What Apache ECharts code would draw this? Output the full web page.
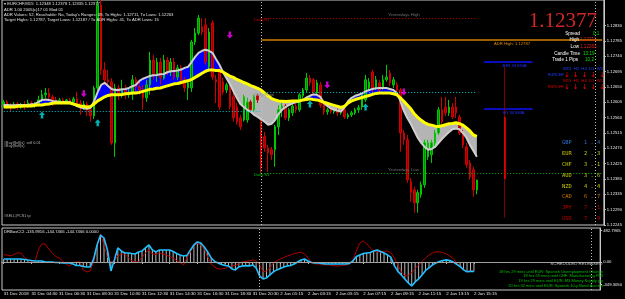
<!DOCTYPE html>
<html>
<head>
<meta charset="utf-8">
<style>
html,body{margin:0;padding:0;background:#000;}
#chart{width:625px;height:299px;}
</style>
<script src="https://cdn.jsdelivr.net/npm/echarts@6/dist/echarts.min.js"></script>
</head>
<body>
<div id="chart"></div>
<script>
// EURCHF M15, 31 Dec 2018 02:30 -> 2 Jan 2019 15:15
var timeTicks = ['31 Dec 2018','31 Dec 04:30','31 Dec 06:30','31 Dec 08:30','31 Dec 10:30','31 Dec 12:30',
    '31 Dec 14:30','31 Dec 16:30','31 Dec 18:30','31 Dec 20:30','2 Jan 01:15','2 Jan 03:15','2 Jan 05:15',
    '2 Jan 07:15','2 Jan 09:15','2 Jan 11:15','2 Jan 13:15','2 Jan 15:15'];

// open, close, low, high
var candles = [
[1.12600,1.12606,1.12589,1.12612],[1.12606,1.12597,1.12586,1.12612],[1.12597,1.12594,1.12577,1.12603],
[1.12594,1.12600,1.12589,1.12606],[1.12600,1.12591,1.12583,1.12606],[1.12591,1.12597,1.12586,1.12603],
[1.12597,1.12594,1.12583,1.12609],[1.12594,1.12603,1.12589,1.12612],[1.12603,1.12597,1.12591,1.12609],
[1.12597,1.12600,1.12589,1.12606],[1.12600,1.12612,1.12594,1.12624],[1.12612,1.12627,1.12606,1.12641],
[1.12627,1.12632,1.12618,1.12647],[1.12632,1.12621,1.12612,1.12647],[1.12621,1.12612,1.12594,1.12627],
[1.12612,1.12609,1.12600,1.12621],[1.12609,1.12612,1.12600,1.12618],[1.12612,1.12609,1.12603,1.12618],
[1.12609,1.12612,1.12603,1.12615],[1.12612,1.12606,1.12600,1.12618],[1.12606,1.12615,1.12600,1.12621],
[1.12615,1.12603,1.12591,1.12635],[1.12603,1.12594,1.12568,1.12612],[1.12594,1.12600,1.12583,1.12609],
[1.12600,1.12583,1.12565,1.12606],[1.12583,1.12565,1.12548,1.12591],[1.12565,1.12647,1.12556,1.12653],
[1.12647,1.12890,1.12641,1.12905],[1.12890,1.12700,1.12685,1.12905],[1.12700,1.12671,1.12656,1.12723],
[1.12671,1.12665,1.12656,1.12700],[1.12665,1.12486,1.12480,1.12676],[1.12486,1.12647,1.12445,1.12659],
[1.12647,1.12627,1.12612,1.12656],[1.12627,1.12641,1.12618,1.12671],[1.12641,1.12627,1.12615,1.12656],
[1.12627,1.12635,1.12618,1.12647],[1.12635,1.12671,1.12612,1.12685],[1.12671,1.12650,1.12635,1.12679],
[1.12650,1.12641,1.12627,1.12665],[1.12641,1.12618,1.12583,1.12656],[1.12618,1.12656,1.12606,1.12671],
[1.12656,1.12729,1.12627,1.12753],[1.12729,1.12685,1.12671,1.12744],[1.12685,1.12723,1.12665,1.12735],
[1.12723,1.12676,1.12656,1.12735],[1.12676,1.12729,1.12671,1.12744],[1.12729,1.12694,1.12685,1.12738],
[1.12694,1.12723,1.12682,1.12735],[1.12723,1.12679,1.12671,1.12735],[1.12679,1.12706,1.12671,1.12715],
[1.12706,1.12671,1.12656,1.12715],[1.12671,1.12647,1.12635,1.12679],[1.12647,1.12662,1.12612,1.12671],
[1.12647,1.12782,1.12635,1.12788],[1.12782,1.12808,1.12773,1.12823],[1.12808,1.12852,1.12802,1.12861],
[1.12826,1.12811,1.12802,1.12852],[1.12832,1.12723,1.12715,1.12852],[1.12709,1.12811,1.12694,1.12823],
[1.12838,1.12679,1.12671,1.12846],[1.12671,1.12665,1.12603,1.12685],[1.12694,1.12591,1.12583,1.12706],
[1.12665,1.12635,1.12627,1.12676],[1.12641,1.12656,1.12632,1.12662],[1.12647,1.12591,1.12583,1.12656],
[1.12621,1.12559,1.12548,1.12635],[1.12591,1.12548,1.12539,1.12603],[1.12559,1.12533,1.12524,1.12568],
[1.12553,1.12621,1.12548,1.12627],[1.12553,1.12606,1.12545,1.12618],[1.12606,1.12583,1.12577,1.12612],
[1.12583,1.12621,1.12577,1.12627],[1.12624,1.12612,1.12603,1.12630],[1.12548,1.12416,1.12398,1.12559],
[1.12504,1.12471,1.12460,1.12518],[1.12471,1.12457,1.12401,1.12480],[1.12466,1.12451,1.12436,1.12474],
[1.12466,1.12533,1.12416,1.12539],[1.12533,1.12583,1.12509,1.12597],[1.12583,1.12594,1.12562,1.12603],
[1.12594,1.12559,1.12553,1.12600],[1.12559,1.12583,1.12550,1.12589],[1.12574,1.12594,1.12565,1.12600],
[1.12594,1.12583,1.12574,1.12600],[1.12583,1.12627,1.12577,1.12632],[1.12624,1.12641,1.12618,1.12647],
[1.12641,1.12676,1.12635,1.12691],[1.12676,1.12662,1.12653,1.12685],[1.12671,1.12635,1.12624,1.12676],
[1.12632,1.12662,1.12627,1.12671],[1.12656,1.12597,1.12589,1.12665],[1.12603,1.12577,1.12568,1.12612],
[1.12577,1.12583,1.12568,1.12589],[1.12583,1.12577,1.12571,1.12589],[1.12577,1.12580,1.12571,1.12586],
[1.12580,1.12574,1.12565,1.12586],[1.12574,1.12577,1.12568,1.12583],[1.12583,1.12562,1.12556,1.12589],
[1.12562,1.12568,1.12556,1.12574],[1.12568,1.12574,1.12562,1.12580],[1.12574,1.12583,1.12568,1.12589],
[1.12583,1.12589,1.12574,1.12597],[1.12591,1.12627,1.12583,1.12632],[1.12612,1.12671,1.12606,1.12685],
[1.12647,1.12665,1.12641,1.12676],[1.12694,1.12647,1.12635,1.12700],[1.12650,1.12671,1.12641,1.12682],
[1.12662,1.12641,1.12632,1.12671],[1.12647,1.12671,1.12641,1.12685],[1.12671,1.12679,1.12665,1.12715],
[1.12691,1.12662,1.12653,1.12700],[1.12656,1.12671,1.12647,1.12679],[1.12656,1.12641,1.12635,1.12665],
[1.12641,1.12515,1.12460,1.12647],[1.12515,1.12495,1.12480,1.12524],[1.12495,1.12378,1.12369,1.12509],
[1.12372,1.12340,1.12313,1.12383],[1.12348,1.12310,1.12281,1.12357],[1.12310,1.12340,1.12281,1.12348],
[1.12334,1.12363,1.12325,1.12372],[1.12363,1.12486,1.12354,1.12495],[1.12445,1.12486,1.12436,1.12495],
[1.12451,1.12486,1.12427,1.12495],[1.12486,1.12515,1.12477,1.12524],[1.12515,1.12583,1.12509,1.12591],
[1.12583,1.12548,1.12539,1.12621],[1.12591,1.12574,1.12565,1.12621],[1.12574,1.12591,1.12565,1.12612],
[1.12591,1.12562,1.12556,1.12603],[1.12591,1.12574,1.12559,1.12621],[1.12562,1.12515,1.12509,1.12568],
[1.12515,1.12480,1.12471,1.12524],[1.12474,1.12422,1.12413,1.12486],[1.12427,1.12386,1.12378,1.12436],
[1.12407,1.12348,1.12328,1.12416],[1.12348,1.12377,1.12335,1.12378]
];

var slowMA = [1.12591,1.12591,1.12591,1.12591,1.12593,1.12593,1.12594,1.12594,1.12594,1.12596,
1.12597,1.12597,1.12599,1.12600,1.12602,1.12603,1.12603,1.12603,1.12603,1.12603,
1.12600,1.12597,1.12594,1.12593,1.12591,1.12593,1.12600,1.12609,1.12615,1.12621,
1.12625,1.12627,1.12627,1.12627,1.12628,1.12630,1.12631,1.12632,1.12632,1.12634,
1.12637,1.12640,1.12643,1.12644,1.12646,1.12647,1.12650,1.12653,1.12656,1.12659,
1.12660,1.12663,1.12666,1.12668,1.12672,1.12678,1.12684,1.12690,1.12696,1.12700,
1.12700,1.12698,1.12698,1.12694,1.12688,1.12682,1.12678,1.12672,1.12668,1.12663,
1.12659,1.12654,1.12650,1.12646,1.12641,1.12632,1.12624,1.12616,1.12612,1.12609,
1.12608,1.12607,1.12608,1.12609,1.12609,1.12609,1.12612,1.12613,1.12615,1.12613,
1.12612,1.12609,1.12605,1.12602,1.12599,1.12596,1.12593,1.12590,1.12594,1.12603,
1.12609,1.12613,1.12616,1.12619,1.12622,1.12625,1.12628,1.12631,1.12632,1.12632,
1.12632,1.12632,1.12630,1.12627,1.12618,1.12608,1.12597,1.12586,1.12571,1.12561,
1.12552,1.12545,1.12540,1.12538,1.12535,1.12534,1.12536,1.12539,1.12542,1.12543,
1.12545,1.12542,1.12538,1.12530,1.12521,1.12509,1.12505];

var fastMA = [1.12597,1.12597,1.12596,1.12596,1.12597,1.12597,1.12597,1.12597,1.12599,1.12600,
1.12606,1.12612,1.12613,1.12612,1.12609,1.12608,1.12606,1.12606,1.12606,1.12605,
1.12600,1.12594,1.12590,1.12587,1.12586,1.12589,1.12609,1.12635,1.12656,1.12662,
1.12653,1.12644,1.12641,1.12641,1.12643,1.12644,1.12647,1.12652,1.12656,1.12668,
1.12674,1.12678,1.12682,1.12684,1.12685,1.12687,1.12688,1.12693,1.12696,1.12697,
1.12698,1.12701,1.12706,1.12709,1.12723,1.12738,1.12750,1.12756,1.12759,1.12756,
1.12750,1.12732,1.12715,1.12694,1.12676,1.12659,1.12638,1.12618,1.12600,1.12591,
1.12583,1.12577,1.12568,1.12562,1.12555,1.12548,1.12539,1.12542,1.12553,1.12571,
1.12583,1.12591,1.12597,1.12602,1.12605,1.12608,1.12612,1.12619,1.12624,1.12628,
1.12627,1.12621,1.12603,1.12594,1.12587,1.12583,1.12580,1.12578,1.12591,1.12609,
1.12618,1.12624,1.12627,1.12631,1.12637,1.12641,1.12644,1.12646,1.12647,1.12647,
1.12647,1.12644,1.12641,1.12632,1.12609,1.12580,1.12559,1.12542,1.12521,1.12501,
1.12486,1.12474,1.12466,1.12468,1.12474,1.12486,1.12498,1.12508,1.12518,1.12526,
1.12528,1.12526,1.12515,1.12501,1.12480,1.12463,1.12445];

// DRBoxCCI buffers
var cciMain = [46,46,46,46,46,46,38,29,21,14,14,14,0,0,0,-8,-8,-15,-15,-15,
-31,-54,-54,-69,-77,-77,46,260,413,367,184,-138,31,214,168,138,138,130,122,153,
168,214,260,184,153,184,184,184,184,161,130,107,92,100,184,260,306,291,230,153,
61,8,-15,-38,-54,-61,-107,-122,-77,-61,-61,-61,-46,-92,-214,-260,-245,-199,-153,-122,
-100,-77,-61,-54,-31,0,31,46,15,-8,-15,-15,-23,-31,-31,-31,-31,-31,-31,-31,
-23,15,84,107,130,138,145,168,184,161,138,107,69,-61,-145,-199,-260,-321,-367,-306,
-260,-199,-130,-92,-46,-15,8,23,31,23,0,-38,-69,-122,-150,-145,-145];
var cciSignal = [107,107,92,115,138,138,69,31,8,-8,184,275,275,199,138,84,61,15,-31,-61,
-15,0,0,-122,-153,-138,0,260,428,260,77,0,15,92,122,122,69,15,0,0,
77,138,184,122,115,138,122,107,84,61,21,-8,-46,61,153,252,283,260,199,77,
-31,-77,-107,-107,-100,-77,-61,-54,-31,0,8,15,31,15,-46,-153,-138,-92,-15,15,
46,69,92,107,130,138,153,122,61,-8,-31,-31,-38,-46,-46,-54,-61,-61,-54,-46,
-31,31,168,291,321,275,214,168,153,153,161,168,138,61,-46,-153,-214,-207,-168,-100,
-46,8,61,107,138,153,153,145,122,92,54,-15,-61,-115,-145,-138,-136];

var sellArrows = [[23,1.12630],[65,1.12802],[93,1.12656],[115,1.12635]];
var buyArrows = [[11,1.12568],[27,1.12545],[88,1.12600],[104,1.12591]];

var priceTicks = [1.12245,1.12290,1.12335,1.12380,1.12425,1.12470,1.12515,1.12560,1.12605,1.12650,1.12695,1.12740,1.12785,1.12830];
var cciTicks = [-349.3050,0,482.7965];

var strength = [['GBP','1.4','#2f6fd0'],['EUR','2.3','#c8c800'],['CHF','3.1','#c8c800'],['AUD','3.6','#c8c800'],
    ['NZD','4.4','#c8c800'],['CAD','6.7','#d07800'],['JPY','7.1','#d00000'],['USD','7.9','#c00000']];

var releases = ['18 hrs 29 mins until EUR: Spanish Unemployment Change','18 hrs 59 mins until CHF: Manufacturing PMI',
    '19 hrs 29 mins until EUR: M3 Money Supply y/y','20 hrs 32 mins until EUR: Spanish 10-y Bond Auction'];

var nCat = 173;
var cats = [];
for (var i = 0; i < nCat; i++) cats.push(i % 8 === 0 && timeTicks[i / 8] ? timeTicks[i / 8] : '');

// fill between the two averages
var lower = [], upFill = [], dnFill = [];
for (var i = 0; i < slowMA.length; i++) {
    var f = fastMA[i], s = slowMA[i];
    lower.push(Math.min(f, s));
    upFill.push(f > s ? f - s : 0);
    dnFill.push(s > f ? s - f : 0);
}

var small = 'Liberation Sans';
function txt(x, y, text, color, size, align, family) {
    return {type: 'text', z: 50, style: {x: x, y: y, text: text, fill: color, fontSize: size || 4.2,
        fontFamily: family || small, align: align || 'left', verticalAlign: 'middle'}};
}

var graphics = [
    txt(4, 4, '\u25BE EURCHF,M15  1.12348 1.12378 1.12335 1.12377', '#e0e0e0'),
    txt(4, 9.5, 'ADR 1.00 2005(c)17 01 Mod 01', '#e0e0e0'),
    txt(4, 15, 'ADR Values: 52, Reachable: No, Today\'s Ranges: 48, To Highs: 1.12711, To Lows: 1.12263', '#e0e0e0'),
    txt(4, 20.3, 'Target Highs: 1.12787, Target Lows: 1.12187 / To ADR Highs: 41, To ADR Lows: 15', '#e0e0e0'),
    txt(597, 21, '1.12377', '#d02828', 21, 'right', 'Liberation Sans Narrow'),
    txt(580, 33.5, 'Spread', '#ffffff', 4.6, 'right'),
    txt(593, 33.5, '0.1', '#00e000', 4.6),
    txt(579, 40, 'High', '#ffffff', 4.6, 'right'),
    txt(580, 40, '1.12711', '#e02020', 4.6),
    txt(579, 46.5, 'Low', '#ffffff', 4.6, 'right'),
    txt(580, 46.5, '1.12263', '#e02020', 4.6),
    txt(580, 53.5, 'Candle Time', '#ffffff', 4.6, 'right'),
    txt(583, 53.5, '13:19', '#00e000', 4.6),
    txt(578, 60, 'Trade 1 Pips', '#ffffff', 4.6, 'right'),
    txt(585, 60, '10.2', '#00e000', 4.6),
    txt(603, 69, 'M15  H1  H4  D1  W1', '#2040ff', 4.2, 'right'),
    txt(548, 75, 'EURCHF', '#2040ff', 3.8),
    txt(603, 81, 'M15  H1  H4  D1  W1', '#e00000', 4.2, 'right'),
    txt(548, 86.5, 'EURCHF', '#e00000', 3.8),
    txt(254, 20, 'Daily R1', '#c00000', 4.2),
    txt(388, 15, 'Yesterdays High', '#707070', 4.4),
    txt(494, 44, 'ADR High: 1.12787', '#e08a00', 4.2),
    txt(502, 66, '4HR 34 EMA', '#2030ff', 4.2),
    txt(503, 112.5, 'H1 34 EMA', '#2030ff', 4.2),
    txt(254, 95, 'Daily Pivot', '#909090', 4.2),
    txt(388, 169.5, 'Yesterdays Low', '#707070', 4.4),
    txt(254, 175, 'Daily S1', '#00c000', 4.2),
    txt(4, 142.5, '#Buy|Sell(s)  sell 0.01', '#b0b0b0', 3.8),
    txt(4, 145.5, '#Buy|Sell(s)', '#b0b0b0', 3.8),
    txt(4, 216, '#SELL|PCS1 tp', '#b0b0b0', 3.8),
    txt(4, 232, 'DRBoxCCI -135.9916 -144.7466 -144.7466 0.0000', '#e0e0e0'),
    txt(603, 264, 'SCHEDULED RELEASES:', '#c0c0c0', 4.4, 'right')
];
for (var k = 0; k < 5; k++) {
    graphics.push(txt(567 + k * 8.8, 75.5, '\u2193', '#ff0000', 7, 'center', 'DejaVu Sans'));
    graphics.push(txt(567 + k * 8.8, 87, '\u2193', '#ff0000', 7, 'center', 'DejaVu Sans'));
}
strength.forEach(function (r, n) {
    var y = 143 + n * 10.8;
    graphics.push(txt(562, y, r[0], r[2], 5.4, 'left', 'DejaVu Sans Mono'));
    graphics.push(txt(584, y, r[1].split('').join(' '), r[2], 5.4, 'left', 'DejaVu Sans Mono'));
});
releases.forEach(function (r, n) {
    graphics.push(txt(603, 271.5 + n * 4.7, r, '#00c000', 4, 'right'));
});

function hLine(price, color, type, width) {
    return {yAxis: price, lineStyle: {color: color, type: type || 'solid', width: width || 1}};
}
function seg(a, b, price, color, type, width) {
    return [{coord: [a, price], lineStyle: {color: color, type: type || 'solid', width: width || 1}}, {coord: [b, price]}];
}
function boxLabel(bg, fg) {
    return {show: true, position: 'end', distance: 1, formatter: function (p) { return p.value.toFixed(5); },
        backgroundColor: bg, color: fg, fontSize: 4.2, fontFamily: small, padding: [1, 1]};
}

var dashDot = [5, 2, 1, 2];
var levels = [
    {yAxis: 1.12870, lineStyle: {color: '#2f5f5f', type: [7, 4], width: 1}, label: boxLabel('#3d6363', '#b0c0c0')},
    {yAxis: 1.12421, lineStyle: {color: '#2f5f5f', type: [7, 4], width: 1}, label: boxLabel('#3d6363', '#b0c0c0')},
    hLine(1.12480, '#00a000', dashDot),
    hLine(1.12473, '#c00000', dashDot),
    hLine(1.12265, '#900000', dashDot),
    {yAxis: 1.12377, lineStyle: {color: '#a8a8a8', type: 'solid', width: 1}, label: boxLabel('#ffffff', '#000000')},
    seg(74, 136, 1.12852, '#c00000', [1, 2]),
    seg(74, 172, 1.12787, '#d08000', 'solid', 1.5),
    seg(0, 74, 1.12580, '#00c8d0', [1, 2]),
    seg(74, 136, 1.12635, '#00c8d0', [1, 2]),
    seg(74, 172, 1.12398, '#00b000', [1, 2]),
    seg(138, 152, 1.12723, '#1010ff', 'solid', 1.5),
    seg(138, 152, 1.12586, '#1010ff', 'solid', 1.5),
    {xAxis: 74, lineStyle: {color: '#c0c0c0', type: [1, 2], width: 1}},
    {xAxis: 170, lineStyle: {color: '#c0c0c0', type: [1, 2], width: 1}}
];
// vertical marker (dark range with bright inner part)
var vMarks = [
    [{coord: [144, 1.12709], lineStyle: {color: '#800000', width: 1}}, {coord: [144, 1.12266]}],
    [{coord: [144, 1.12562], lineStyle: {color: '#ff0000', width: 1.5}}, {coord: [144, 1.12380]}]
];

var arrowUp = 'path://M5,0 L10,5 L7,5 L7,10 L3,10 L3,5 L0,5 Z';

var chart = echarts.init(document.getElementById('chart'));
chart.setOption({
    backgroundColor: '#000000',
    animation: false,
    textStyle: {fontFamily: small},
    graphic: graphics,
    grid: [
        {left: 2, right: 19, top: 0, height: 225, show: true, borderColor: '#c8c8c8', borderWidth: 1},
        {left: 2, right: 19, top: 228, height: 62, show: true, borderColor: '#c8c8c8', borderWidth: 1}
    ],
    xAxis: [
        {type: 'category', gridIndex: 0, data: cats, boundaryGap: true,
            axisLine: {show: false}, axisTick: {show: false}, axisLabel: {show: false}},
        {type: 'category', gridIndex: 1, data: cats, boundaryGap: true,
            axisLine: {show: true, lineStyle: {color: '#c8c8c8'}},
            axisTick: {show: true, alignWithLabel: true, length: 2, lineStyle: {color: '#c8c8c8'},
                interval: function (i, v) { return v !== ''; }},
            axisLabel: {show: true, color: '#e8e8e8', fontSize: 4.4, align: 'left', margin: 2,
                interval: function (i, v) { return v !== ''; }}}
    ],
    yAxis: [
        {type: 'value', gridIndex: 0, position: 'right', min: 1.12245, max: 1.12905,
            splitLine: {show: false},
            axisLine: {show: true, lineStyle: {color: '#c8c8c8'}},
            axisTick: {show: true, length: 2, customValues: priceTicks, lineStyle: {color: '#c8c8c8'}},
            axisLabel: {color: '#e8e8e8', fontSize: 4.2, margin: 3, customValues: priceTicks,
                formatter: function (v) { return v.toFixed(5); }}},
        {type: 'value', gridIndex: 1, position: 'right', min: -430, max: 520,
            splitLine: {show: false},
            axisLine: {show: true, lineStyle: {color: '#c8c8c8'}},
            axisTick: {show: true, length: 2, customValues: cciTicks, lineStyle: {color: '#c8c8c8'}},
            axisLabel: {color: '#e8e8e8', fontSize: 4.2, margin: 3, customValues: cciTicks,
                formatter: function (v) { return v === 0 ? '0.00' : v.toFixed(4); }}}
    ],
    series: [
        {type: 'line', stack: 'up', data: lower, symbol: 'none', silent: true, z: 1, lineStyle: {width: 0, opacity: 0}},
        {type: 'line', stack: 'up', data: upFill, symbol: 'none', silent: true, z: 1, lineStyle: {width: 0, opacity: 0},
            areaStyle: {color: '#0000ff', opacity: 1}},
        {type: 'line', stack: 'dn', data: lower, symbol: 'none', silent: true, z: 1, lineStyle: {width: 0, opacity: 0}},
        {type: 'line', stack: 'dn', data: dnFill, symbol: 'none', silent: true, z: 1, lineStyle: {width: 0, opacity: 0},
            areaStyle: {color: '#b4b4b4', opacity: 1}},
        {type: 'line', data: [], z: 2, silent: true,
            markLine: {symbol: 'none', silent: true, label: {show: false}, lineStyle: {type: 'solid'}, data: levels}},
        {type: 'line', data: [], z: 2, silent: true,
            markLine: {symbol: 'none', silent: true, label: {show: false},
                lineStyle: {type: 'solid', color: '#800000', width: 1}, data: vMarks}},
        {type: 'candlestick', data: candles, barWidth: 2, z: 3,
            itemStyle: {color: '#008c00', color0: '#a00000', borderColor: '#00c800', borderColor0: '#d00000', borderWidth: 1}},
        {type: 'line', data: fastMA, symbol: 'none', z: 4, lineStyle: {color: '#cfcfcf', width: 2}},
        {type: 'line', data: slowMA, symbol: 'none', z: 5, lineStyle: {color: '#ffff00', width: 3}},
        {type: 'scatter', data: buyArrows, symbol: arrowUp, symbolSize: [6, 7], z: 6, itemStyle: {color: '#00e0e0'}},
        {type: 'scatter', data: sellArrows, symbol: arrowUp, symbolRotate: 180, symbolSize: [6, 7], z: 6, itemStyle: {color: '#ff00ff'}},
        {type: 'bar', xAxisIndex: 1, yAxisIndex: 1, data: cciMain, barWidth: 1, itemStyle: {color: '#b8b8b8'},
            markLine: {symbol: 'none', silent: true, label: {show: false}, lineStyle: {type: 'solid'},
                data: [{yAxis: 0, lineStyle: {color: '#a0a0a0', type: 'solid', width: 1}},
                    {xAxis: 74, lineStyle: {color: '#c0c0c0', type: [1, 2], width: 1}},
                    {xAxis: 170, lineStyle: {color: '#c0c0c0', type: [1, 2], width: 1}}]}},
        {type: 'line', xAxisIndex: 1, yAxisIndex: 1, data: cciSignal, symbol: 'none', z: 3, lineStyle: {color: '#b00000', width: 1}},
        {type: 'line', xAxisIndex: 1, yAxisIndex: 1, data: cciMain, symbol: 'none', z: 4, lineStyle: {color: '#20c0ff', width: 1.6}}
    ]
});
</script>
</body>
</html>
